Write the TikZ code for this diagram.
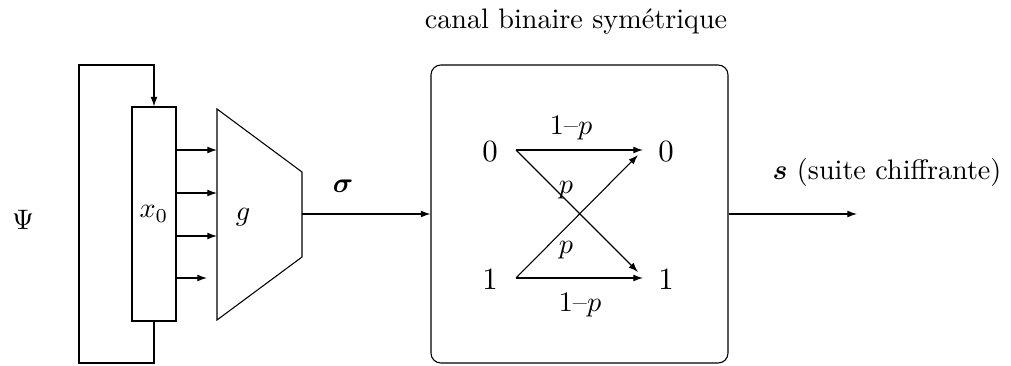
\documentclass[tikz,border=0pt]{standalone}
\usepackage{amsmath,amssymb,bm}
\usetikzlibrary{arrows.meta,fit}
\begin{document}
\begin{tikzpicture}[x=0.355pt,y=-0.355pt,
  >={Latex[length=3.4pt,width=2.4pt]}, line width=0.38pt,
  lbl/.style={inner sep=0pt},
  digit/.style={inner sep=0pt, font=\fontsize{10.95}{13}\selectfont},
  boxfit/.style={draw, inner sep=0pt}]
\useasboundingbox (0,0) rectangle (1011,365);
% register x0
\coordinate (x0a) at (132,107);
\coordinate (x0b) at (176,321);
\node[boxfit, fit=(x0a)(x0b)] (x0) {};
\node[lbl] (x0l) at (x0.center) {$x_0$};
% g trapezoid
\coordinate (gtl) at (217,109);
\coordinate (gtr) at (302,172);
\coordinate (gbr) at (302,257);
\coordinate (gbl) at (217,320);
\draw (gtl) -- (gtr) -- (gbr) -- (gbl) -- cycle;
\node[lbl] (g) at (243,217) {$g$};
% arrows x0 -> g
\foreach \yy/\xe in {150/217,193/217,236/217,278/207}{
  \draw[->] (x0.east |- 0,\yy) -- (\xe,\yy);
}
% feedback loop
\coordinate (lb) at (154,363);
\coordinate (lbl2) at (79,363);
\coordinate (ltl) at (79,65);
\coordinate (ltr) at (154,65);
\draw[->] (x0.south) -- (lb) -- (lbl2) -- (ltl) -- (ltr) -- (x0.north);
\node[lbl] (psi) at (23,220) {$\Psi$};
% channel box
\coordinate (ba) at (431,65);
\coordinate (bb) at (728,363);
\node[boxfit, rounded corners=3.5pt, fit=(ba)(bb)] (bsc) {};
\node[lbl] (title) at (576,22) {canal binaire symétrique};
\coordinate (gout) at (302,214);
\draw[->] (gout) -- (bsc.west);
\node[lbl] (sigma) at (343,186) {$\boldsymbol{\sigma}$};
\coordinate (send) at (857,214);
\draw[->] (bsc.east) -- (send);
\node[lbl] (s) at (887,172) {$\boldsymbol{s}$ (suite chiffrante)};
% channel inside
\node[digit] (a0) at (490,152) {$0$};
\node[digit] (a1) at (490,280) {$1$};
\node[digit] (b0) at (666,152) {$0$};
\node[digit] (b1) at (666,280) {$1$};
\coordinate (p0) at (516,150);
\coordinate (p1) at (516,278);
\coordinate (q0) at (643,150);
\coordinate (q1) at (643,278);
\coordinate (c0) at (638,155);
\coordinate (c1) at (638,272);
\draw[->] (p0) -- (q0);
\draw[->] (p1) -- (q1);
\draw[->] (p0) -- (c1);
\draw[->] (p1) -- (c0);
\node[lbl] (l00) at (571,128) {1--$p$};
\node[lbl] (l11) at (580,305) {1--$p$};
\node[lbl] (l01) at (566,190) {$p$};
\node[lbl] (l10) at (566,250) {$p$};
\end{tikzpicture}
\end{document}
